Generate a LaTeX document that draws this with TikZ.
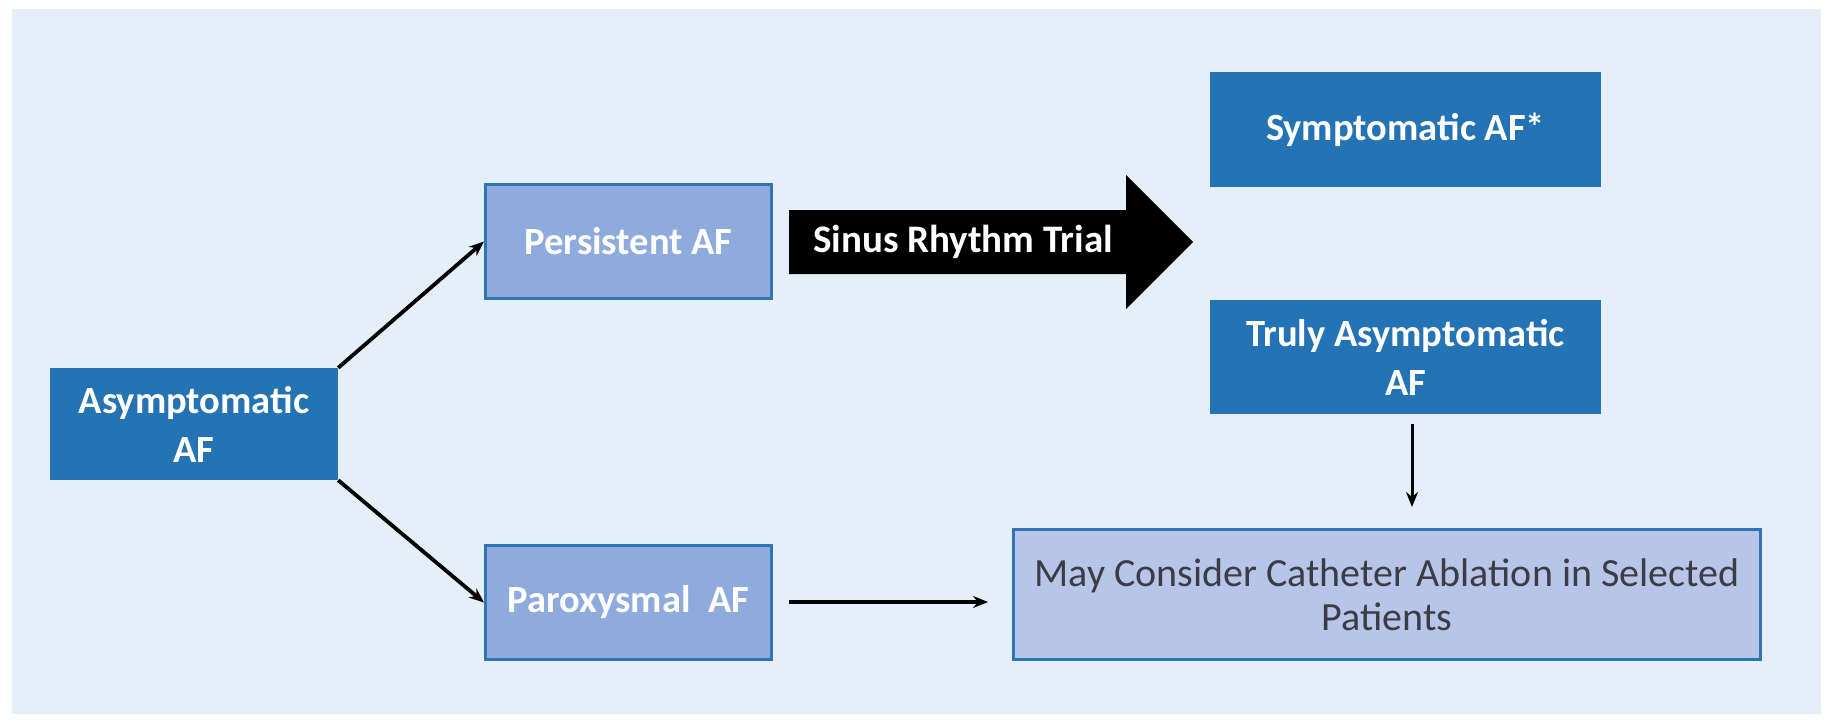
\documentclass[tikz,border=0pt]{standalone}
\usepackage{fontspec}
\setmainfont{Carlito}
\usetikzlibrary{arrows.meta}
\definecolor{panel}{RGB}{228,239,249}
\definecolor{darkbox}{RGB}{36,115,181}
\definecolor{lightbox}{RGB}{143,170,220}
\definecolor{paleb}{RGB}{182,197,232}
\definecolor{edgeb}{RGB}{46,117,182}
\definecolor{txtgray}{RGB}{60,60,70}
\begin{document}
\begin{tikzpicture}[x=1pt,y=-1pt,
  darkn/.style={draw=none,fill=darkbox,text=white,font=\fontsize{38.5}{49}\selectfont\bfseries,align=center,inner sep=0pt},
  lightn/.style={draw=edgeb,line width=3pt,fill=lightbox,text=white,font=\fontsize{38.5}{49}\selectfont\bfseries,align=center,inner sep=0pt},
  conn/.style={line width=3.8pt,-{Stealth[length=15pt,width=12pt]}}]
\useasboundingbox (0,0) rectangle (1830,721);
\fill[white] (0,0) rectangle (1830,721);
\fill[panel] (12,9) rectangle (1821,714);
\node[darkn,minimum width=288pt,minimum height=112pt] (asym) at (194,424) {Asymptomatic\\AF};
\node[lightn,minimum width=286pt,minimum height=114pt] (pers) at (628.5,241.5) {Persistent AF};
\node[lightn,minimum width=286pt,minimum height=114pt] (parox) at (628.5,602.5) {Paroxysmal\ \ AF};
\node[darkn,minimum width=391pt,minimum height=115pt] (symp) at (1405.5,129.5) {Symptomatic AF*};
\node[darkn,minimum width=391pt,minimum height=114pt] (truly) at (1405.5,357) {Truly Asymptomatic\\AF};
\node[draw=edgeb,line width=3pt,fill=paleb,text=txtgray,font=\fontsize{40}{44.5}\selectfont,align=center,inner sep=0pt,minimum width=747pt,minimum height=130pt] (may) at (1387,594.5) {May Consider Catheter Ablation in Selected\\Patients};
% big block arrow
\fill[black] (789,210) -- (1126,210) -- (1126,175) -- (1193,242) -- (1126,309) -- (1126,274) -- (789,274) -- cycle;
\node[text=white,font=\fontsize{39}{42}\selectfont\bfseries,inner sep=0pt] (trial) at (963,242) {Sinus Rhythm Trial};
% connectors
\draw[conn] (asym.north east) -- (pers.west);
\draw[conn] (asym.south east) -- (parox.west);
\coordinate (hs) at (789,602);
\coordinate (he) at (988,602);
\draw[conn] (hs) -- (he);
\coordinate (vs) at (1412,424);
\coordinate (ve) at (1412,507);
\draw[conn,line width=3pt] (vs) -- (ve);
\end{tikzpicture}
\end{document}
